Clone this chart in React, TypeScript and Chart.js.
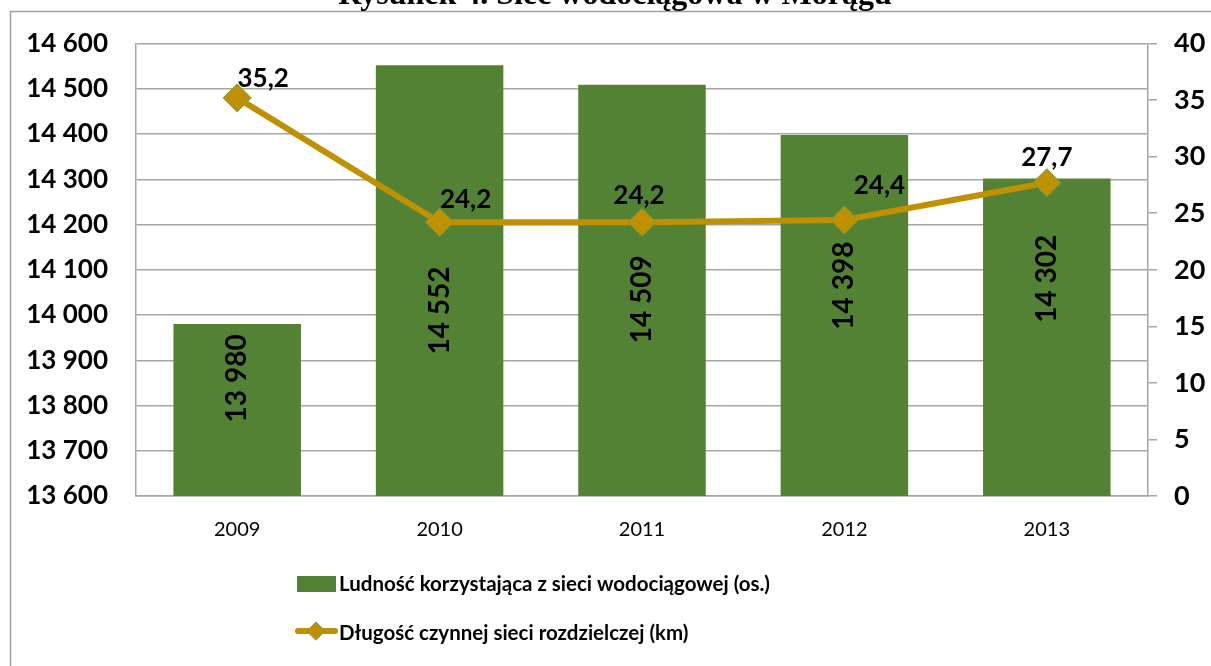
import React, { useEffect, useRef } from "react";
import { Chart, registerables } from "chart.js";

Chart.register(...registerables);

const TITLE = "Rysunek 4. Sieć wodociągowa w Morągu";
const YEARS = ["2009", "2010", "2011", "2012", "2013"];
const POPULATION = [13980, 14552, 14509, 14398, 14302];
const NETWORK_KM = [35.2, 24.2, 24.2, 24.4, 27.7];
const SERIES_BAR = "Ludność korzystająca z sieci wodociągowej (os.)";
const SERIES_LINE = "Długość czynnej sieci rozdzielczej (km)";
const LEFT_MIN = 13600;
const LEFT_MAX = 14600;
const LEFT_STEP = 100;
const RIGHT_MIN = 0;
const RIGHT_MAX = 40;
const RIGHT_STEP = 5;

// label anchors (layout, not data)
const BAR_LABEL_AT = [13860, 14010, 14035, 14065, 14080];
const LINE_LABEL_OFFSET: [number, number][] = [
  [26, -19],
  [26, -23],
  [-3, -27],
  [35, -34],
  [0, -25],
];

const GREEN = "#548235";
const GOLD = "#BF9000";
const MARKER_BORDER = "#7A9A3A";
const GRID = "#a6a6a6";
const FONT = "Lato";

const fmtThousands = (v: number) =>
  String(Math.round(v)).replace(/\B(?=(\d{3})+(?!\d))/g, " ");
const fmtDecimal = (v: number) => v.toFixed(1).replace(".", ",");

const decorPlugin = {
  id: "decor",
  beforeDraw(chart: any) {
    const ctx = chart.ctx;
    ctx.save();
    ctx.fillStyle = "#fff";
    ctx.fillRect(0, 0, chart.width, chart.height);
    ctx.strokeStyle = "#a0a0a0";
    ctx.lineWidth = 1.5;
    ctx.beginPath();
    ctx.moveTo(10.5, chart.height);
    ctx.lineTo(10.5, 11.5);
    ctx.lineTo(chart.width, 11.5);
    ctx.stroke();
    ctx.fillStyle = "#000";
    ctx.font = 'bold 32px "Liberation Serif"';
    ctx.textAlign = "center";
    ctx.textBaseline = "alphabetic";
    ctx.fillText(TITLE, 615, 4);
    ctx.restore();
  },
  afterDatasetsDraw(chart: any) {
    const ctx = chart.ctx;
    const yScale = chart.scales.y;
    ctx.save();
    ctx.fillStyle = "#000";
    ctx.font = `bold 28px ${FONT}`;
    ctx.textAlign = "center";
    ctx.textBaseline = "middle";
    const barMeta = chart.getDatasetMeta(0);
    barMeta.data.forEach((bar: any, i: number) => {
      const y = yScale.getPixelForValue(BAR_LABEL_AT[i]);
      ctx.save();
      ctx.translate(bar.x, y);
      ctx.rotate(-Math.PI / 2);
      ctx.fillText(fmtThousands(POPULATION[i]), 0, 0);
      ctx.restore();
    });
    ctx.font = `bold 26px ${FONT}`;
    const lineMeta = chart.getDatasetMeta(1);
    lineMeta.data.forEach((pt: any, i: number) => {
      const [dx, dy] = LINE_LABEL_OFFSET[i];
      ctx.fillText(fmtDecimal(NETWORK_KM[i]), pt.x + dx, pt.y + dy);
    });
    ctx.restore();
  },
  afterDraw(chart: any) {
    const ctx = chart.ctx;
    ctx.save();
    // legend item 1
    ctx.fillStyle = GREEN;
    ctx.fillRect(297, 576, 39, 16);
    ctx.fillStyle = "#000";
    ctx.font = `bold 20.5px ${FONT}`;
    ctx.textAlign = "left";
    ctx.textBaseline = "middle";
    ctx.fillText(SERIES_BAR, 339, 584);
    // legend item 2
    ctx.strokeStyle = GOLD;
    ctx.lineWidth = 6;
    ctx.lineCap = "round";
    ctx.beginPath();
    ctx.moveTo(298, 631);
    ctx.lineTo(335, 631);
    ctx.stroke();
    ctx.beginPath();
    const cx = 316, cy = 631, r = 9;
    ctx.moveTo(cx - r, cy);
    ctx.lineTo(cx, cy - r);
    ctx.lineTo(cx + r, cy);
    ctx.lineTo(cx, cy + r);
    ctx.closePath();
    ctx.fillStyle = GOLD;
    ctx.fill();
    ctx.lineWidth = 1;
    ctx.strokeStyle = MARKER_BORDER;
    ctx.stroke();
    ctx.fillStyle = "#000";
    ctx.fillText(SERIES_LINE, 339, 633);
    ctx.restore();
  },
};

export default function App() {
  const ref = useRef<HTMLCanvasElement>(null);
  useEffect(() => {
    if (!ref.current) return;
    const chart = new Chart(ref.current, {
      type: "bar",
      data: {
        labels: YEARS,
        datasets: [
          {
            type: "bar",
            label: SERIES_BAR,
            data: POPULATION,
            backgroundColor: GREEN,
            yAxisID: "y",
            categoryPercentage: 1,
            barPercentage: 0.63,
            order: 2,
          } as any,
          {
            type: "line",
            label: SERIES_LINE,
            data: NETWORK_KM,
            borderColor: GOLD,
            borderWidth: 6,
            pointStyle: "rectRot",
            pointRadius: 14,
            pointBackgroundColor: GOLD,
            pointBorderColor: MARKER_BORDER,
            pointBorderWidth: 1,
            yAxisID: "y1",
            order: 1,
            tension: 0,
          } as any,
        ],
      },
      options: {
        responsive: false,
        animation: false,
        layout: { padding: { top: 43, left: 0, right: 0, bottom: 0 } },
        plugins: {
          legend: { display: false },
          title: { display: false },
          tooltip: { enabled: false },
        },
        scales: {
          x: {
            grid: { display: false, drawTicks: false },
            border: { display: true, color: GRID, width: 1.5 },
            ticks: {
              color: "#000",
              font: { family: FONT, size: 20 },
              padding: 22,
            },
            afterFit: (s: any) => {
              s.height = 170;
            },
          },
          y: {
            position: "left",
            min: LEFT_MIN,
            max: LEFT_MAX,
            grid: { color: GRID, lineWidth: 1.5, drawTicks: false },
            border: { display: true, color: GRID, width: 1.5 },
            ticks: {
              stepSize: LEFT_STEP,
              color: "#000",
              font: { family: FONT, size: 26, weight: "bold" },
              padding: 28,
              callback: (v: any) => fmtThousands(Number(v)),
            },
            afterFit: (s: any) => {
              s.width = 136;
            },
          },
          y1: {
            position: "right",
            min: RIGHT_MIN,
            max: RIGHT_MAX,
            grid: {
              drawOnChartArea: false,
              color: GRID,
              lineWidth: 1.5,
              tickLength: 9,
            },
            border: { display: true, color: GRID, width: 1.5 },
            ticks: {
              stepSize: RIGHT_STEP,
              color: "#000",
              font: { family: FONT, size: 27, weight: "bold" },
              padding: 17,
            },
            afterFit: (s: any) => {
              s.width = 63;
            },
          },
        },
      } as any,
      plugins: [decorPlugin],
    });
    return () => chart.destroy();
  }, []);
  return (
    <div style={{ position: "fixed", left: 0, top: 0, width: 1211, height: 666, background: "#fff" }}>
      <canvas ref={ref} width={1211} height={666} style={{ display: "block" }} />
    </div>
  );
}
